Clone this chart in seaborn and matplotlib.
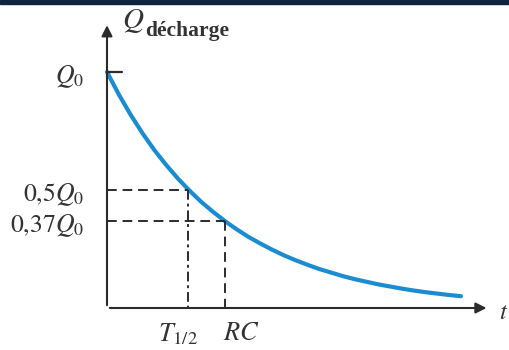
import numpy as np
import pandas as pd
import matplotlib.pyplot as plt
import matplotlib.patches as patches
import seaborn as sns

temps = [0.0, 0.1, 0.2, 0.3, 0.4, 0.5, 0.6, 0.7, 0.8, 0.9, 1.0,
         1.1, 1.2, 1.3, 1.4, 1.5, 1.6, 1.7, 1.8, 1.9, 2.0,
         2.1, 2.2, 2.3, 2.4, 2.5, 2.6, 2.7, 2.8, 2.9, 3.0]
charge = [1.0, 0.905, 0.819, 0.741, 0.670, 0.607, 0.549, 0.497, 0.449, 0.407, 0.368,
          0.333, 0.301, 0.273, 0.247, 0.223, 0.202, 0.183, 0.165, 0.150, 0.135,
          0.122, 0.111, 0.100, 0.091, 0.082, 0.074, 0.067, 0.061, 0.055, 0.050]

# Repères
t_demi = 0.69
t_rc = 1.0
q_demi = 0.5
q_rc = 0.37
labels_y = [r'$Q_0$', r'$0{,}5Q_0$', r'$0{,}37Q_0$']
valeurs_y = [1.0, q_demi, q_rc]

df = pd.DataFrame({'t': temps, 'Q': charge})

sns.set_style('white')
plt.rcParams['mathtext.fontset'] = 'stix'
plt.rcParams['font.family'] = ['Liberation Serif', 'DejaVu Serif']

fig = plt.figure(figsize=(5.1, 3.5), dpi=100)
ax = fig.add_axes([0, 0, 1, 1])

# Pixel -> données : x = 107 + 118 t ; y = 308 - 236 Q
ax.set_xlim(-107 / 118, 403 / 118)
ax.set_ylim(-42 / 236, 308 / 236)
ax.axis('off')

axe = '#2b2b2b'
txt = '#333333'

# Axes avec flèches
ax.annotate('', xy=(3.24, 0), xytext=(0, 0),
            arrowprops=dict(arrowstyle='-|>', color=axe, lw=1.5, mutation_scale=16))
ax.annotate('', xy=(0, 1.21), xytext=(0, 0),
            arrowprops=dict(arrowstyle='-|>', color=axe, lw=1.5, mutation_scale=16))

# Courbe
sns.lineplot(data=df, x='t', y='Q', ax=ax, color='#1a8ccf', lw=3)

# Trait Q0
ax.plot([0, 0.13], [1.0, 1.0], color=axe, lw=1.6)

# Pointillés
ax.plot([0, t_demi], [q_demi, q_demi], color=axe, lw=1.4, ls=(0, (5, 3)))
ax.plot([0, t_rc], [q_rc, q_rc], color=axe, lw=1.4, ls=(0, (5, 3)))
ax.plot([t_demi, t_demi], [q_demi, 0], color=axe, lw=1.4, ls=(0, (5, 2, 1.5, 2)))
ax.plot([t_rc, t_rc], [q_rc, 0], color=axe, lw=1.4, ls=(0, (5, 3)))

# Étiquettes axe Q
for lab, v in zip(labels_y, valeurs_y):
    ax.text(-0.19, v - 0.02, lab, ha='right', va='center', fontsize=18.5, color=txt)

# Étiquettes axe t
ax.text(t_demi - 0.09, -0.11, r'$T_{1/2}$', ha='center', va='center', fontsize=19, color=txt)
ax.text(t_rc - 0.02, -0.11, r'$RC$', ha='left', va='center', fontsize=19, color=txt)

# Titres des axes
ax.text(0.13, 1.215, r'$Q$', ha='left', va='center', fontsize=21, color=txt)
ax.text(0.32, 1.175, 'décharge', ha='left', va='center', fontsize=15.5,
        fontweight='bold', color=txt)
ax.text(3.32, -0.02, r'$t$', ha='left', va='center', fontsize=18, color=txt)

# Bandeau sombre en haut
fig.patches.append(patches.Rectangle((0, 1 - 4 / 350), 1, 4 / 350,
                                     transform=fig.transFigure, color='#0d2340'))

plt.savefig('out.png', dpi=100)
